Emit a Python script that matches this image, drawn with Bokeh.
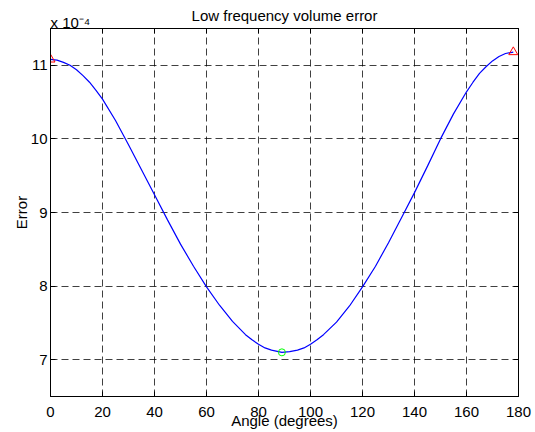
from bokeh.plotting import figure
from bokeh.models import FixedTicker, LinearAxis, Range1d, CustomJSTickFormatter, Title
from bokeh.embed import file_html
from bokeh.resources import INLINE

# Data (error values in units of 1e-4)
angle_deg = [0, 2.5, 5, 7.5, 10, 12.5, 15, 17.5, 20, 25, 30, 35, 40, 45, 50, 55, 60, 65,
             70, 75, 77.5, 80, 82.5, 85, 89, 92, 95, 97.5, 100, 102.5, 105, 110, 115, 120,
             125, 130, 135, 140, 145, 150, 155, 160, 162.5, 165, 167.5, 170, 172.5, 175, 178]
error_e4 = [11.08, 11.07, 11.04, 11.00, 10.94, 10.86, 10.77, 10.66, 10.54, 10.25, 9.92,
            9.58, 9.24, 8.90, 8.57, 8.27, 7.99, 7.74, 7.52, 7.34, 7.27, 7.21, 7.16, 7.13,
            7.10, 7.11, 7.13, 7.16, 7.21, 7.27, 7.34, 7.51, 7.73, 7.99, 8.27, 8.59, 8.93,
            9.27, 9.63, 10.00, 10.34, 10.64, 10.77, 10.89, 10.98, 11.06, 11.12, 11.16, 11.18]
end_angles = [0, 178]
end_errors = [11.08, 11.18]
min_angle = [89]
min_error = [7.10]
x_ticks = [0, 20, 40, 60, 80, 100, 120, 140, 160, 180]
y_ticks = [7, 8, 9, 10, 11]

FONT = "Liberation Sans"

p = figure(width=535, height=432, output_backend="svg", toolbar_location=None,
           x_range=Range1d(0, 180), y_range=Range1d(6.5, 11.5),
           min_border_left=50, min_border_right=17, min_border_top=28, min_border_bottom=36)
p.background_fill_color = "white"
p.border_fill_color = "white"
p.outline_line_color = "black"
p.outline_line_width = 1

for ax, ticks in ((p.xaxis[0], x_ticks), (p.yaxis[0], y_ticks)):
    ax.ticker = FixedTicker(ticks=ticks)
    ax.major_tick_in = 5
    ax.major_tick_out = 0
    ax.minor_tick_line_color = None
    ax.axis_line_color = "black"
    ax.major_tick_line_color = "black"
    ax.major_label_text_font = FONT
    ax.major_label_text_font_size = "15px"
    ax.major_label_text_color = "black"
    ax.axis_label_text_font = FONT
    ax.axis_label_text_font_size = "15px"
    ax.axis_label_text_font_style = "normal"
    ax.axis_label_text_color = "black"
p.xaxis[0].major_label_standoff = 10
p.yaxis[0].major_label_standoff = 3
p.xaxis[0].axis_label = "Angle (degrees)"
p.yaxis[0].axis_label = "Error"
p.xaxis[0].axis_label_standoff = -8
p.yaxis[0].axis_label_standoff = -2

blank = CustomJSTickFormatter(code="return ''")
top = LinearAxis(ticker=FixedTicker(ticks=x_ticks), major_tick_in=5, major_tick_out=0,
                 minor_tick_line_color=None, formatter=blank, major_label_standoff=0,
                 major_label_text_font_size="1px", axis_line_color="black")
right = LinearAxis(ticker=FixedTicker(ticks=y_ticks), major_tick_in=5, major_tick_out=0,
                   minor_tick_line_color=None, formatter=blank, major_label_standoff=0,
                   major_label_text_font_size="1px", axis_line_color="black")
p.add_layout(top, "above")
p.add_layout(right, "right")

# exponent note (left) and title (centre) above the frame
p.add_layout(Title(text="x 10\u207b\u2074", align="left", text_font=FONT,
                   text_font_size="15px", text_font_style="normal", text_color="black",
                   standoff=-5), "above")
p.title.text = "Low frequency volume error"
p.title.text_font = FONT
p.title.text_font_size = "15px"
p.title.text_font_style = "normal"
p.title.text_color = "black"
p.title.align = "center"
p.title.standoff = -18

p.xgrid.ticker = FixedTicker(ticks=x_ticks[1:-1])
p.ygrid.ticker = FixedTicker(ticks=y_ticks)
for g in (p.xgrid[0], p.ygrid[0]):
    g.grid_line_color = "black"
    g.grid_line_alpha = 0.75
    g.grid_line_dash = "7 4"
    g.grid_line_width = 1

p.line(angle_deg, error_e4, line_color="#0000FF", line_width=1.2)
p.scatter(end_angles, end_errors, marker="triangle", size=9, fill_color=None,
          line_color="#FF0000", line_width=1)
p.scatter(min_angle, min_error, marker="circle", size=7, fill_color=None,
          line_color="#00FF00", line_width=1)

open("out.html", "w").write(file_html(p, INLINE))
